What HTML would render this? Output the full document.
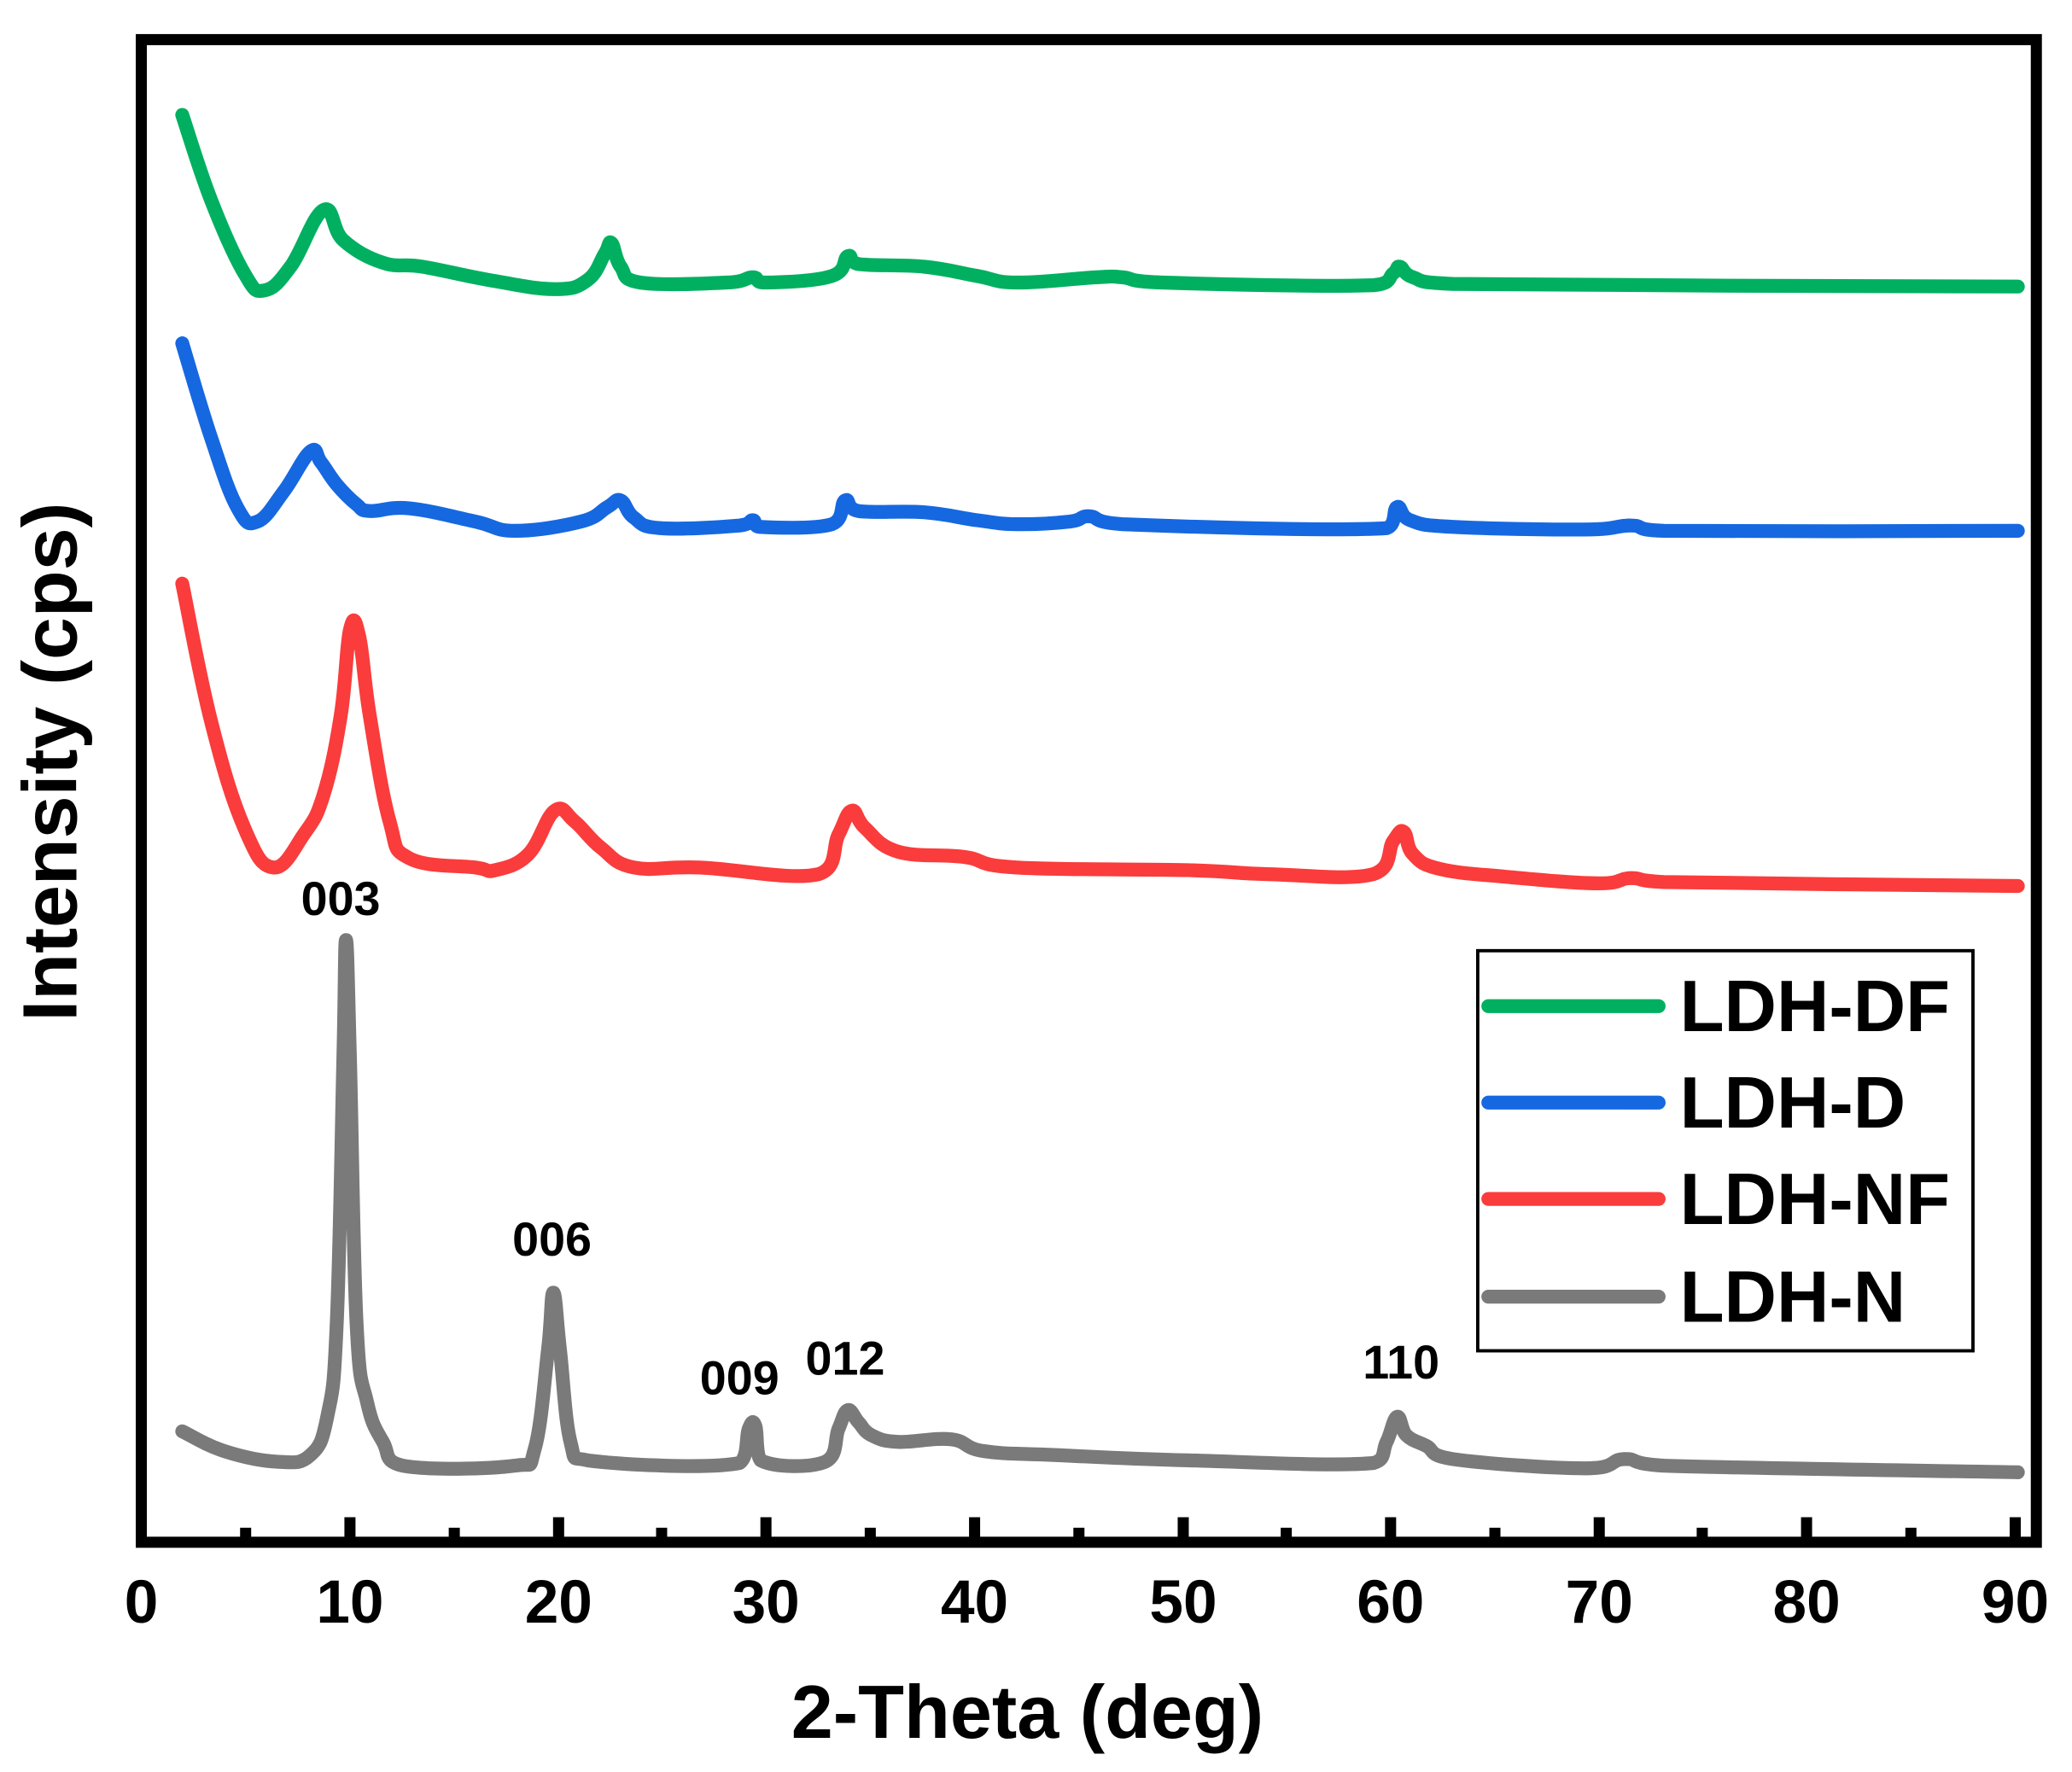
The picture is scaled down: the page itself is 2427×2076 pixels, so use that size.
<!DOCTYPE html>
<html><head><meta charset="utf-8"><style>html,body{margin:0;padding:0;background:#fff}svg{display:block}</style></head>
<body>
<svg id="s" width="2427" height="2076" viewBox="0 -2 1569 1342" preserveAspectRatio="none" xmlns="http://www.w3.org/2000/svg" font-family="Liberation Sans, Arial, sans-serif" font-weight="bold">
<rect x="0" y="-2" width="1569" height="1342" fill="#fff"/>
<g id="curves" fill="none" stroke-linejoin="round" stroke-linecap="round" stroke-width="10.5">
<polyline stroke="#00b060" points="138,85 160,150 185,205 200,218 220,200 245,157 260,180 290,197 320,200 370,210 420,217 445,210 458,190 463,182 470,200 485,212 550,212 570,208 580,212 630,207 642,192 650,198 700,200 740,207 770,212 830,208 850,208 880,212 1040,214 1055,205 1060,200 1070,208 1100,213 1528,215"/>
<polyline stroke="#1668e0" points="138,258 160,330 180,383 195,393 215,370 235,340 243,348 255,365 270,380 280,385 310,383 360,393 390,400 440,393 460,382 470,377 480,390 500,398 560,396 570,392 575,397 630,395 640,377 650,385 700,386 740,392 770,395 810,393 825,389 850,395 1050,398 1058,382 1068,392 1100,397 1200,399 1235,396 1260,400 1528,400"/>
<polyline stroke="#fa3c3c" points="138,440 160,545 185,625 207,655 230,630 245,600 258,540 265,475 272,480 280,540 295,620 310,648 360,655 375,657 400,645 420,612 435,620 455,640 480,655 530,655 620,660 635,630 645,612 655,625 680,643 730,647 770,655 900,657 960,660 1040,660 1055,635 1063,628 1070,645 1090,656 1140,662 1210,667 1235,663 1260,666 1528,669"/>
<polyline stroke="#7a7a7a" points="138,1082 170,1097 210,1105 235,1100 248,1070 255,1000 260,800 262,710 265,800 270,1000 278,1060 290,1090 305,1108 390,1108 405,1095 415,1020 419,977 424,1020 432,1090 445,1104 560,1106 567,1080 572,1078 576,1104 625,1105 635,1080 642,1066 650,1075 660,1085 680,1090 720,1088 745,1097 800,1100 900,1104 1040,1106 1050,1090 1058,1071 1065,1085 1080,1093 1100,1103 1200,1110 1230,1103 1260,1108 1528,1113"/>
</g>
<rect x="107" y="28" width="1435" height="1138" fill="none" stroke="#000" stroke-width="8.4"/>
<g stroke="#000" stroke-width="8.4">
<line x1="265" y1="1166" x2="265" y2="1147"/><line x1="423" y1="1166" x2="423" y2="1147"/><line x1="580" y1="1166" x2="580" y2="1147"/><line x1="738" y1="1166" x2="738" y2="1147"/><line x1="896" y1="1166" x2="896" y2="1147"/><line x1="1053" y1="1166" x2="1053" y2="1147"/><line x1="1211" y1="1166" x2="1211" y2="1147"/><line x1="1368" y1="1166" x2="1368" y2="1147"/><line x1="1526" y1="1166" x2="1526" y2="1147"/>
<line x1="186" y1="1166" x2="186" y2="1155"/><line x1="344" y1="1166" x2="344" y2="1155"/><line x1="501" y1="1166" x2="501" y2="1155"/><line x1="659" y1="1166" x2="659" y2="1155"/><line x1="817" y1="1166" x2="817" y2="1155"/><line x1="974" y1="1166" x2="974" y2="1155"/><line x1="1132" y1="1166" x2="1132" y2="1155"/><line x1="1289" y1="1166" x2="1289" y2="1155"/><line x1="1447" y1="1166" x2="1447" y2="1155"/>
</g>
<g font-size="46" text-anchor="middle" fill="#000">
<text x="107" y="1227">0</text><text x="265" y="1227">10</text><text x="423" y="1227">20</text><text x="580" y="1227">30</text><text x="738" y="1227">40</text><text x="896" y="1227">50</text><text x="1053" y="1227">60</text><text x="1211" y="1227">70</text><text x="1368" y="1227">80</text><text x="1526" y="1227">90</text>
</g>
<text x="778" y="1314" font-size="57" text-anchor="middle">2-Theta (deg)</text>
<text transform="translate(58,575) rotate(-90)" font-size="58" text-anchor="middle">Intensity (cps)</text>
<g font-size="36" text-anchor="middle">
<text x="258" y="691">003</text><text x="418" y="949">006</text><text x="560" y="1054">009</text><text x="640" y="1039">012</text><text x="1061" y="1042">110</text>
</g>
<rect x="1119" y="718" width="375" height="303" fill="#fff" stroke="#000" stroke-width="2.5"/>
<g stroke-width="10.5" stroke-linecap="round">
<line x1="1127" y1="760" x2="1256" y2="760" stroke="#00b060"/>
<line x1="1127" y1="833" x2="1256" y2="833" stroke="#1668e0"/>
<line x1="1127" y1="906" x2="1256" y2="906" stroke="#fa3c3c"/>
<line x1="1127" y1="980" x2="1256" y2="980" stroke="#7a7a7a"/>
</g>
<g font-size="55">
<text x="1272" y="779">LDH-DF</text><text x="1272" y="852">LDH-D</text><text x="1272" y="925">LDH-NF</text><text x="1272" y="999">LDH-N</text>
</g>
</svg>
<script>
(function(){
var ns="http://www.w3.org/2000/svg";
var pls=document.querySelectorAll('#curves polyline');
for(var k=0;k<pls.length;k++){
var pl=pls[k];
var pts=pl.getAttribute('points').trim().split(/\s+/).map(function(s){var a=s.split(',');return [+a[0],+a[1]];});
var d='M'+pts[0][0]+','+pts[0][1];
for(var i=0;i<pts.length-1;i++){
var p0=pts[Math.max(i-1,0)],p1=pts[i],p2=pts[i+1],p3=pts[Math.min(i+2,pts.length-1)];
var t=0.2;
var c1x=p1[0]+(p2[0]-p0[0])*t,c1y=p1[1]+(p2[1]-p0[1])*t;
var c2x=p2[0]-(p3[0]-p1[0])*t,c2y=p2[1]-(p3[1]-p1[1])*t;
c1x=Math.min(Math.max(c1x,p1[0]),p2[0]);c2x=Math.min(Math.max(c2x,p1[0]),p2[0]);
d+=' C'+c1x.toFixed(1)+','+c1y.toFixed(1)+' '+c2x.toFixed(1)+','+c2y.toFixed(1)+' '+p2[0]+','+p2[1];
}
var p=document.createElementNS(ns,'path');
p.setAttribute('d',d);p.setAttribute('stroke',pl.getAttribute('stroke'));
pl.parentNode.replaceChild(p,pl);
}
})();
</script>
</body></html>
